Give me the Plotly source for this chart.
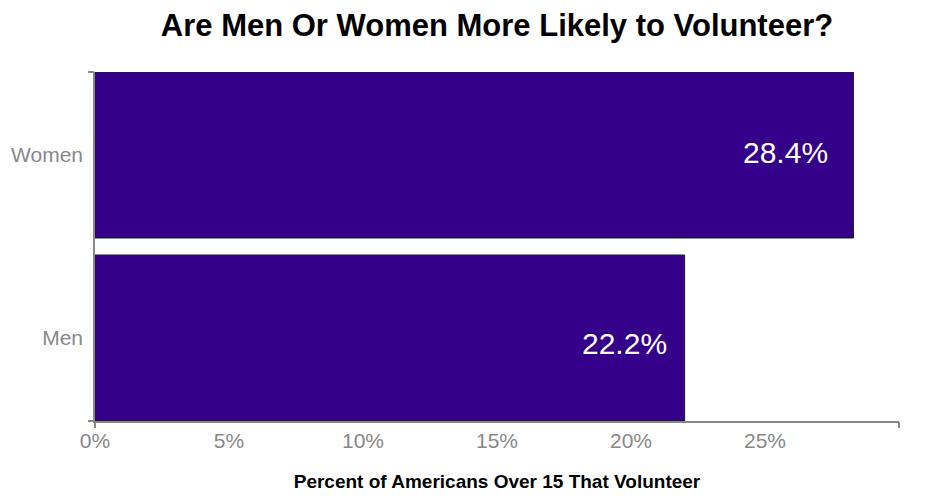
import plotly.graph_objects as go

categories = ["Men", "Women"]
values = [22.0, 28.3]
labels = ["22.2%", "28.4%"]
x_ticks = [0, 5, 10, 15, 20, 25]
x_tick_text = ["0%", "5%", "10%", "15%", "20%", "25%"]

title_text = "Are Men Or Women More Likely to Volunteer?"
x_title = "Percent of Americans Over 15 That Volunteer"

bar_color = "#340089"
gray = "#888888"
bargap = 0.093
half = (1 - bargap) / 2
y_range = [-half, len(categories) - 1 + half]
x_range = [0, 30]
font_main = "Liberation Sans, Arial, sans-serif"
label_offsets = [(-16, -5), (-23, 3)]  # pixel nudges for the in-bar labels

# the page body has an 8px default margin, so the figure is sized to fit the window
W, H = 927, 494
L, R, T, B = 87, 36, 64, 81

fig = go.Figure()
fig.add_trace(go.Bar(
    y=categories, x=values, orientation="h",
    marker=dict(color=bar_color, line=dict(color="#1a1a1a", width=1)),
    hoverinfo="skip", showlegend=False,
))

for cat, v, lab, (dx, dy) in zip(categories, values, labels, label_offsets):
    fig.add_annotation(
        x=v, y=cat, xref="x", yref="y", text=lab, showarrow=False,
        xanchor="right", yanchor="middle", xshift=dx, yshift=dy,
        font=dict(family=font_main, size=30, color="white"),
    )

# invisible trace on overlay axes to carry end ticks
fig.add_trace(go.Scatter(x=x_range, y=[0, 0], xaxis="x2", yaxis="y2",
                         mode="markers", marker=dict(opacity=0), hoverinfo="skip",
                         showlegend=False))

fig.update_layout(
    width=W, height=H,
    margin=dict(l=L, r=R, t=T, b=B, autoexpand=False),
    paper_bgcolor="white", plot_bgcolor="white",
    bargap=bargap,
    title=dict(text="<b>" + title_text + "</b>", x=(L + (W - R)) / 2 / W, xanchor="center",
               y=1 - 17 / H, yanchor="middle", automargin=False,
               font=dict(family=font_main, size=31, color="black")),
    xaxis=dict(range=x_range, tickvals=x_ticks, ticktext=x_tick_text, automargin=False,
               showgrid=False, zeroline=False, showline=True, linecolor=gray, linewidth=1.5,
               ticks="", ticklabelstandoff=0,
               tickfont=dict(family=font_main, size=21, color=gray),
               title=dict(text="<b>" + x_title + "</b>", standoff=24,
                          font=dict(family=font_main, size=19, color="black")),
               fixedrange=True),
    yaxis=dict(type="category", categoryorder="array", categoryarray=categories,
               range=y_range, showgrid=False, zeroline=False, automargin=False,
               showline=True, linecolor=gray, linewidth=1.5, ticks="", ticklabelstandoff=6,
               tickfont=dict(family=font_main, size=21, color=gray),
               fixedrange=True),
    xaxis2=dict(overlaying="x", range=x_range, side="bottom", anchor="y2", automargin=False,
                tickvals=x_range, ticktext=["", ""], ticks="outside", ticklen=6,
                tickwidth=1.5, tickcolor=gray, showgrid=False, zeroline=False,
                showline=False, fixedrange=True),
    yaxis2=dict(overlaying="y", range=y_range, side="left", anchor="x2", automargin=False,
                tickvals=y_range, ticktext=["", ""], ticks="outside", ticklen=6,
                tickwidth=1.5, tickcolor=gray, showgrid=False, zeroline=False,
                showline=False, fixedrange=True),
)

fig.write_html("out.html", config={"displayModeBar": False})
